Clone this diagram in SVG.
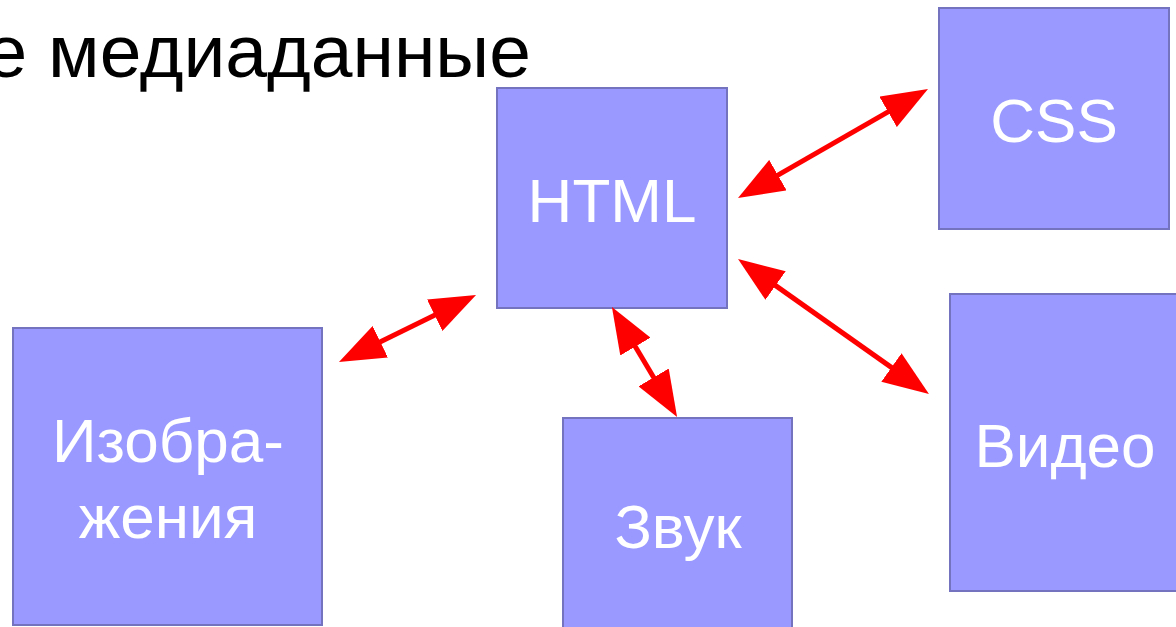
<svg xmlns="http://www.w3.org/2000/svg" width="1176" height="627" viewBox="0 0 1176 627">
<style>
.box{fill:#9999ff;stroke:#7373c0;stroke-width:2}
.lbl{font-family:"Liberation Sans",Arial,sans-serif;font-size:62px;fill:#ffffff;text-anchor:middle}
.title{font-family:"Liberation Sans",Arial,sans-serif;font-size:75px;fill:#000000;text-anchor:end}
.conn{stroke:#ff0000;stroke-width:5;fill:none;marker-start:url(#ah);marker-end:url(#ah)}
</style>
<defs>
<marker id="ah" markerUnits="userSpaceOnUse" markerWidth="46" markerHeight="35" refX="6" refY="17.5" orient="auto-start-reverse" viewBox="0 0 46 35">
<path d="M0,0 L46,17.5 L0,35 z" fill="#ff0000"/>
</marker>
</defs>
<rect width="1176" height="627" fill="#ffffff"/>
<text class="title" x="531" y="77">е медиаданные</text>
<g id="html"><rect class="box" x="497" y="88" width="230" height="220"/><text class="lbl" x="612" y="222">HTML</text></g>
<g id="css"><rect class="box" x="939" y="8" width="230" height="221"/><text class="lbl" x="1054" y="142">CSS</text></g>
<g id="video"><rect class="box" x="950" y="294" width="230" height="297"/><text class="lbl" x="1065" y="467">Видео</text></g>
<g id="images"><rect class="box" x="13" y="328" width="309" height="297"/><text class="lbl" x="168" y="462">Изобра-</text><text class="lbl" x="168" y="538">жения</text></g>
<g id="sound"><rect class="box" x="563" y="418" width="229" height="220"/><text class="lbl" x="678" y="548">Звук</text></g>
<g id="connectors">
<line class="conn" x1="772.7" y1="178.1" x2="893.3" y2="108.9"/>
<line class="conn" x1="770.7" y1="282.1" x2="896.3" y2="370.9"/>
<line class="conn" x1="632.3" y1="341.4" x2="656.7" y2="382.6"/>
<line class="conn" x1="374.9" y1="344.4" x2="440.1" y2="312.6"/>
</g>
</svg>
